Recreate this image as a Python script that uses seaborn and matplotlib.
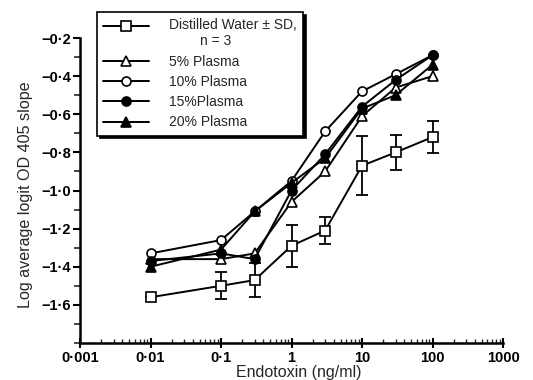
import matplotlib
matplotlib.use("Agg")
import matplotlib.pyplot as plt
import matplotlib.ticker as mticker
from matplotlib.legend_handler import HandlerLine2D
import seaborn as sns
import numpy as np
import pandas as pd

# ---- data ----
endotoxin = [0.01, 0.1, 0.3, 1, 3, 10, 30, 100]
water = [-1.56, -1.50, -1.47, -1.29, -1.21, -0.87, -0.80, -0.72]
water_sd = [0.0, 0.07, 0.09, 0.11, 0.07, 0.155, 0.09, 0.085]
plasma5 = [-1.36, -1.36, -1.33, -1.06, -0.90, -0.61, -0.46, -0.40]
plasma10 = [-1.33, -1.26, -1.11, -0.95, -0.69, -0.48, -0.39, -0.29]
plasma15 = [-1.37, -1.33, -1.36, -1.00, -0.81, -0.56, -0.42, -0.29]
plasma20 = [-1.40, -1.31, -1.11, -0.96, -0.83, -0.57, -0.50, -0.34]
labels = ["Distilled Water \u00b1 SD,\n        n = 3", "5% Plasma", "10% Plasma",
          "15%Plasma", "20% Plasma"]
xticks = [0.001, 0.01, 0.1, 1, 10, 100, 1000]
xticklabels = ["0\u00b7001", "0\u00b701", "0\u00b71", "1", "10", "100", "1000"]

sns.set_theme(style="ticks")
plt.rcParams["font.family"] = ["Liberation Sans", "DejaVu Sans"]

W, H = 533, 380
fig = plt.figure(figsize=(W / 100, H / 100), dpi=100)
ax = fig.add_axes([80 / W, 37 / H, 423 / W, 305 / H])

series = [
    (water, "s", "white"),
    (plasma5, "^", "white"),
    (plasma10, "o", "white"),
    (plasma15, "o", "black"),
    (plasma20, "^", "black"),
]
for (vals, mk, fc), lab in zip(series, labels):
    df = pd.DataFrame({"x": endotoxin, "y": vals})
    sns.lineplot(data=df, x="x", y="y", ax=ax, color="black", lw=1.4,
                 marker=mk, markersize=6.5, markerfacecolor=fc,
                 markeredgecolor="black", markeredgewidth=1.2, label=lab)

ax.errorbar(endotoxin, water, yerr=water_sd, fmt="none", ecolor="black",
            elinewidth=1.3, capsize=4.5, capthick=1.3, zorder=1)

ax.set_xscale("log")
ax.set_xlim(0.001, 1000)
ax.set_ylim(-1.8, -0.2)
ax.set_xticks(xticks)
ax.set_xticklabels(xticklabels)
ax.xaxis.set_minor_locator(mticker.LogLocator(base=10, subs=np.arange(2, 10)))
ax.xaxis.set_minor_formatter(mticker.NullFormatter())
ax.set_yticks(np.arange(-1.6, -0.19, 0.2))
ax.yaxis.set_major_formatter(mticker.FuncFormatter(
    lambda v, p: ("\u2212" if v < 0 else "") + f"{abs(v):.1f}".replace(".", "\u00b7")))
ax.yaxis.set_minor_locator(mticker.MultipleLocator(0.1))

sns.despine(ax=ax)
for s in ["left", "bottom"]:
    ax.spines[s].set_linewidth(1.8)
    ax.spines[s].set_color("black")
ax.tick_params(axis="x", which="major", direction="inout", length=7, width=1.5,
               pad=2.5, colors="black")
ax.tick_params(axis="x", which="minor", direction="in", length=3, width=1)
ax.tick_params(axis="y", which="major", direction="out", length=5, width=1.5,
               pad=1.5, colors="black")
ax.tick_params(axis="y", which="minor", direction="out", length=4, width=1.2)
for t in ax.get_xticklabels() + ax.get_yticklabels():
    t.set_fontsize(10.5)
    t.set_fontweight("bold")

ax.set_xlabel("Endotoxin (ng/ml)", fontsize=11.5)
ax.set_ylabel("Log average logit OD 405 slope", fontsize=11.6)
ax.xaxis.set_label_coords(0.516, -0.071)
ax.yaxis.set_label_coords(-0.112, 0.485)


class ShiftedLine(HandlerLine2D):
    def __init__(self, dy, **kw):
        super().__init__(**kw)
        self.dy = dy

    def create_artists(self, legend, orig_handle, xdescent, ydescent, width,
                       height, fontsize, trans):
        arts = super().create_artists(legend, orig_handle, xdescent, ydescent,
                                      width, height, fontsize, trans)
        for a in arts:
            a.set_ydata(np.asarray(a.get_ydata(), float) + self.dy)
        return arts


if ax.get_legend():
    ax.get_legend().remove()
h, l = ax.get_legend_handles_labels()
leg = fig.legend(h, l, loc="upper left", bbox_to_anchor=(97 / W, 1 - 12 / H),
                 borderaxespad=0, fontsize=10, frameon=True, fancybox=False,
                 edgecolor="black", handlelength=3.3, handletextpad=1.45,
                 labelspacing=0.45, borderpad=0.45,
                 handler_map={h[0]: ShiftedLine(5.4)},
                 shadow={"color": "black", "alpha": 1})
leg.get_frame().set_linewidth(1.2)

fig.savefig("out.png", dpi=100)
